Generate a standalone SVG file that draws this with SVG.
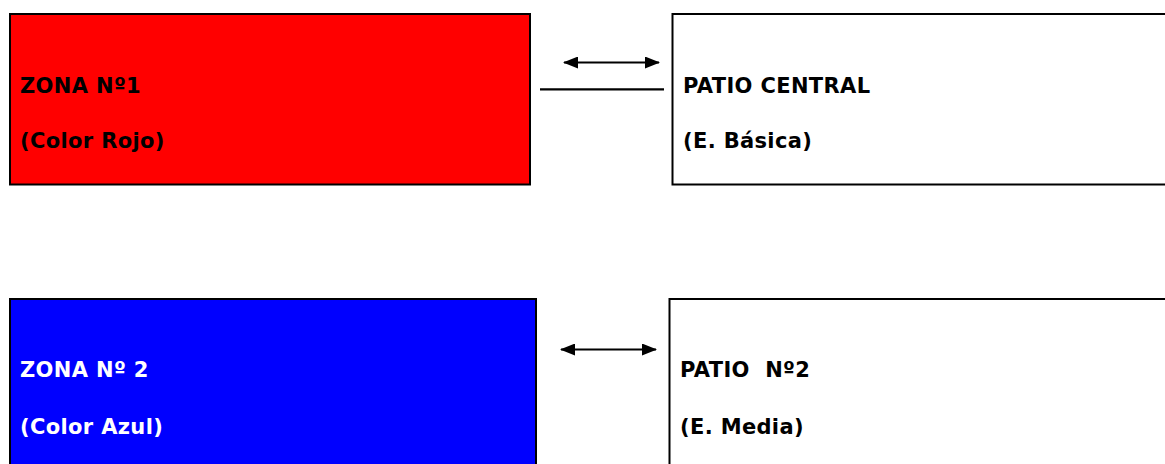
<svg xmlns="http://www.w3.org/2000/svg" width="1165" height="464" viewBox="0 0 1165 464">
<style>
.box{stroke:#000;stroke-width:2}
.t{font-family:"DejaVu Sans",Verdana,sans-serif;font-weight:bold;font-size:21px;letter-spacing:0.35px;fill:#000}
.w{fill:#fff}
.c{stroke:#000;stroke-width:2.2;fill:none}
</style>
<defs>
<marker id="ah" viewBox="0 0 15 12" refX="14" refY="6" markerWidth="15" markerHeight="12" markerUnits="userSpaceOnUse" orient="auto-start-reverse">
<path d="M0,0 L15,6 L0,12 Z" fill="#000"/>
</marker>
</defs>
<rect width="1165" height="464" fill="#fff"/>
<g id="zona1">
<rect class="box" x="10" y="14" width="520" height="170.5" fill="#ff0000"/>
<text class="t" x="20" y="92.5">ZONA Nº1</text>
<text class="t" x="20" y="147.5">(Color Rojo)</text>
</g>
<g id="patio-central">
<rect class="box" x="672.5" y="14" width="520" height="170.5" fill="#fff"/>
<text class="t" x="683" y="92.5">PATIO CENTRAL</text>
<text class="t" x="683" y="147.5">(E. Básica)</text>
</g>
<g id="zona2">
<rect class="box" x="10" y="299" width="526" height="200" fill="#0000ff"/>
<text class="t w" x="20" y="376.5">ZONA Nº 2</text>
<text class="t w" x="20" y="433.5">(Color Azul)</text>
</g>
<g id="patio2">
<rect class="box" x="669.5" y="299" width="520" height="200" fill="#fff"/>
<text class="t" x="680" y="376.5" xml:space="preserve">PATIO  Nº2</text>
<text class="t" x="680" y="433.5">(E. Media)</text>
</g>
<g id="connectors">
<line class="c" x1="564" y1="62.5" x2="659" y2="62.5" marker-start="url(#ah)" marker-end="url(#ah)"/>
<line class="c" x1="540" y1="89.3" x2="664" y2="89.3"/>
<line class="c" x1="561" y1="349.5" x2="656" y2="349.5" marker-start="url(#ah)" marker-end="url(#ah)"/>
</g>
</svg>
